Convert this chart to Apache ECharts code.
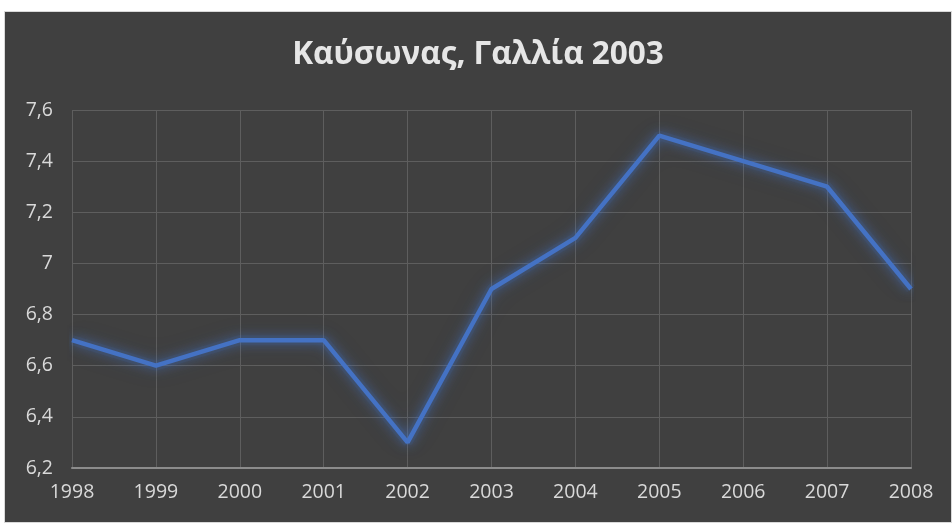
<!DOCTYPE html>
<html>
<head>
<meta charset="utf-8">
<script src="https://cdn.jsdelivr.net/npm/echarts@6/dist/echarts.min.js"></script>
<style>
  html, body { margin: 0; padding: 0; background: #ffffff; }
  #frame { position: absolute; left: 4px; top: 11px; width: 946px; height: 510px; border: 1px solid #d9d9d9; background: #404040; }
  #main { width: 946px; height: 510px; }
</style>
</head>
<body>
<div id="frame"><div id="main"></div></div>
<script>
var years = ['1998', '1999', '2000', '2001', '2002', '2003', '2004', '2005', '2006', '2007', '2008']
var values = [6.7, 6.6, 6.7, 6.7, 6.3, 6.9, 7.1, 7.5, 7.4, 7.3, 6.9]
var title = 'Καύσωνας, Γαλλία 2003'

var chart = echarts.init(document.getElementById('main'))
var labelColor = '#d9d9d9'
chart.setOption({
    backgroundColor: '#404040',
    animation: false,
    title: {
        text: title,
        left: 'center',
        top: 22,
        textStyle: { color: '#e6e6e6', fontSize: 31.5, fontWeight: 'bold', fontFamily: 'Open Sans' }
    },
    grid: { left: 67, right: 40, top: 98, bottom: 54 },
    xAxis: {
        type: 'category',
        data: years,
        boundaryGap: false,
        axisLine: { lineStyle: { color: '#8c8c8c', width: 2 } },
        axisTick: { show: false },
        axisLabel: { color: labelColor, fontSize: 19.5, fontFamily: 'Open Sans', margin: 14 },
        splitLine: { show: true, lineStyle: { color: '#5e5e5e', width: 1 } }
    },
    yAxis: {
        type: 'value',
        min: 6.2,
        max: 7.6,
        interval: 0.2,
        axisLine: { show: false },
        axisTick: { show: false },
        axisLabel: {
            color: labelColor, fontSize: 19.5, fontFamily: 'Open Sans', margin: 19,
            formatter: function (v) { return String(Math.round(v * 10) / 10).replace('.', ',') }
        },
        splitLine: { lineStyle: { color: '#5e5e5e', width: 1 } }
    },
    series: [
        // soft glow underneath
        {
            type: 'line',
            data: values,
            symbol: 'none',
            silent: true,
            lineStyle: {
                color: 'rgba(68,114,196,0.1)',
                width: 10,
                shadowColor: 'rgba(68,114,196,0.75)',
                shadowBlur: 26
            }
        },
        {
            type: 'line',
            data: values,
            symbol: 'none',
            lineStyle: {
                color: '#4472c4',
                width: 4.5,
                shadowColor: 'rgba(68,114,196,0.9)',
                shadowBlur: 12
            }
        }
    ]
})
</script>
</body>
</html>
